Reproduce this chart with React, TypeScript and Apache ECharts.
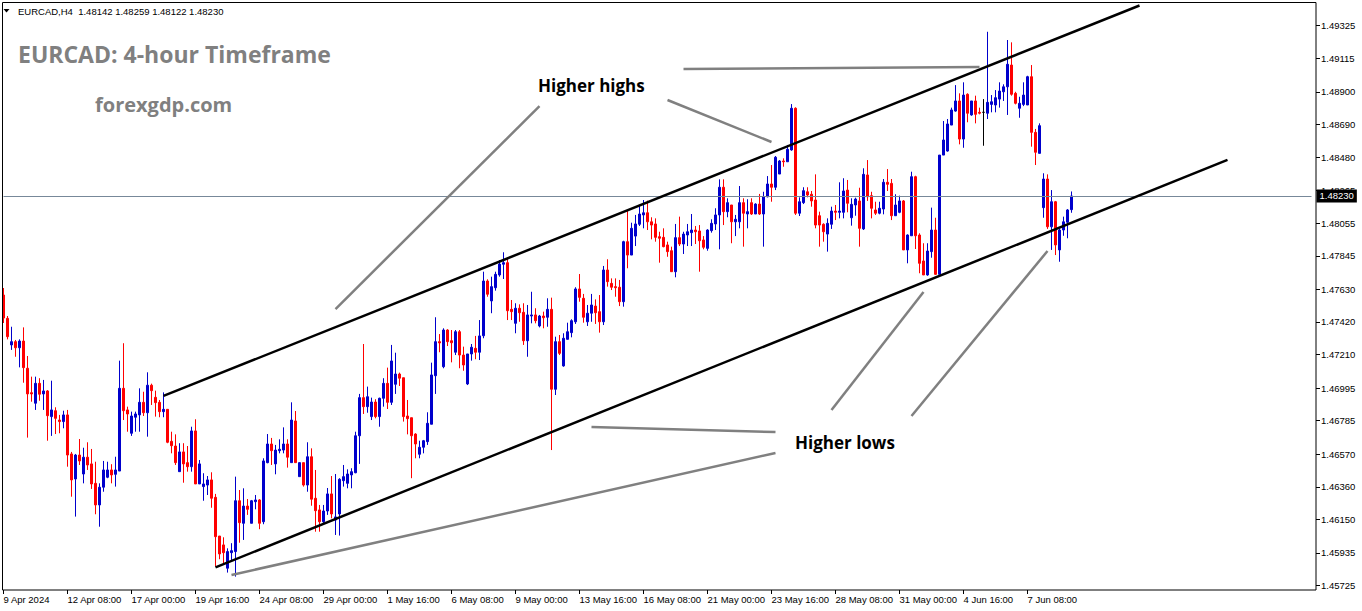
import React, { useEffect, useRef } from 'react';
import * as echarts from 'echarts';

// ---- axis labels ----
const xTickLabels = [
  '9 Apr 2024', '12 Apr 08:00', '17 Apr 00:00', '19 Apr 16:00', '24 Apr 08:00', '29 Apr 00:00',
  '1 May 16:00', '6 May 08:00', '9 May 00:00', '13 May 16:00', '16 May 08:00', '21 May 00:00',
  '23 May 16:00', '28 May 08:00', '31 May 00:00', '4 Jun 16:00', '7 Jun 08:00',
];
const xTickIndex = [0, 16, 32, 48, 64, 80, 96, 112, 128, 144, 160, 176, 192, 208, 224, 240, 256];
const yTickLabels = [
  '1.49325', '1.49115', '1.48900', '1.48690', '1.48480', '1.48265', '1.48055', '1.47845', '1.47630',
  '1.47420', '1.47210', '1.46995', '1.46785', '1.46570', '1.46360', '1.46150', '1.45935', '1.45725',
];
const slotCount = 328; // bar slots incl. empty space on the right
const priceMin = 1.45696;
const priceMax = 1.49471;
const bidPrice = 1.4823;

// ---- OHLC (H4 bars) ----
const opens = [
  1.47593, 1.47443, 1.47272, 1.47293, 1.47254, 1.47297, 1.47122, 1.46965, 1.46897, 1.47025,
  1.46957, 1.46976, 1.46811, 1.46849, 1.46789, 1.46779, 1.46822, 1.46571, 1.46410, 1.46564,
  1.46442, 1.46550, 1.46507, 1.46382, 1.46243, 1.46357, 1.46421, 1.46468, 1.46440, 1.46461,
  1.46993, 1.46854, 1.46704, 1.46807, 1.46822, 1.46903, 1.46836, 1.47013, 1.46935, 1.46903,
  1.46843, 1.46858, 1.46652, 1.46622, 1.46457, 1.46584, 1.46515, 1.46489, 1.46719, 1.46378,
  1.46361, 1.46371, 1.46404, 1.46292, 1.46043, 1.45986, 1.45836, 1.45936, 1.45943, 1.46270,
  1.46125, 1.46236, 1.46125, 1.46264, 1.46275, 1.46135, 1.46515, 1.46635, 1.46507, 1.46592,
  1.46596, 1.46635, 1.46515, 1.46783, 1.46425, 1.46515, 1.46371, 1.46553, 1.46286, 1.46211,
  1.46135, 1.46204, 1.46314, 1.46146, 1.46185, 1.46399, 1.46382, 1.46436, 1.46450, 1.46688,
  1.46933, 1.46875, 1.46811, 1.46905, 1.46811, 1.46929, 1.47025, 1.46903, 1.47019, 1.47085,
  1.47061, 1.46815, 1.46804, 1.46699, 1.46569, 1.46614, 1.46650, 1.46762, 1.47074, 1.47293,
  1.47132, 1.47368, 1.47299, 1.47225, 1.47357, 1.47207, 1.47021, 1.47214, 1.47250, 1.47225,
  1.47331, 1.47683, 1.47555, 1.47640, 1.47722, 1.47791, 1.47801, 1.47501, 1.47411, 1.47508,
  1.47482, 1.47299, 1.47458, 1.47465, 1.47394, 1.47458, 1.47450, 1.47501, 1.46987, 1.47293,
  1.47137, 1.47308, 1.47351, 1.47421, 1.47632, 1.47572, 1.47421, 1.47476, 1.47522, 1.47486,
  1.47421, 1.47754, 1.47668, 1.47647, 1.47643, 1.47550, 1.47936, 1.47850, 1.47972, 1.48048,
  1.48108, 1.48122, 1.48064, 1.48050, 1.47968, 1.47964, 1.47915, 1.47878, 1.47743, 1.47962,
  1.47921, 1.47979, 1.47994, 1.48011, 1.48005, 1.47947, 1.47893, 1.48007, 1.48050, 1.48108,
  1.48286, 1.48129, 1.48172, 1.48064, 1.48064, 1.48187, 1.48114, 1.48187, 1.48114, 1.48178,
  1.48114, 1.48225, 1.48307, 1.48286, 1.48371, 1.48455, 1.48450, 1.48526, 1.48794, 1.48119,
  1.48187, 1.48257, 1.48241, 1.48204, 1.48103, 1.48048, 1.47985, 1.48048, 1.48133, 1.48125,
  1.48125, 1.48268, 1.48090, 1.48172, 1.48198, 1.48018, 1.48365, 1.48232, 1.48140, 1.48119,
  1.48146, 1.48318, 1.48311, 1.48103, 1.48125, 1.48198, 1.47883, 1.47974, 1.48354, 1.47979,
  1.47812, 1.47722, 1.47872, 1.48011, 1.47726, 1.48493, 1.48519, 1.48686, 1.48776, 1.48841,
  1.48596, 1.48884, 1.48751, 1.48841, 1.48768, 1.48768, 1.48762, 1.48819, 1.48815, 1.48853,
  1.48900, 1.48932, 1.49072, 1.48890, 1.48794, 1.48819, 1.48815, 1.48997, 1.48639, 1.48504,
  1.48155, 1.48339, 1.48032, 1.48193, 1.47883, 1.48011, 1.48061, 1.48142,
];
const closes = [
  1.47445, 1.47325, 1.47293, 1.47254, 1.47297, 1.47126, 1.46957, 1.46957, 1.47025, 1.46955,
  1.46976, 1.46817, 1.46854, 1.46800, 1.46779, 1.46822, 1.46564, 1.46404, 1.46564, 1.46526,
  1.46550, 1.46500, 1.46378, 1.46243, 1.46357, 1.46468, 1.46468, 1.46436, 1.46468, 1.46993,
  1.46849, 1.46828, 1.46815, 1.46828, 1.46903, 1.46836, 1.47013, 1.46978, 1.46901, 1.46843,
  1.46858, 1.46646, 1.46624, 1.46515, 1.46584, 1.46507, 1.46489, 1.46719, 1.46378, 1.46507,
  1.46378, 1.46404, 1.46286, 1.46039, 1.45928, 1.45936, 1.45943, 1.45949, 1.46270, 1.46129,
  1.46236, 1.46215, 1.46270, 1.46275, 1.46125, 1.46526, 1.46635, 1.46592, 1.46596, 1.46601,
  1.46635, 1.46550, 1.46789, 1.46515, 1.46515, 1.46371, 1.46553, 1.46280, 1.46206, 1.46135,
  1.46204, 1.46314, 1.46185, 1.46166, 1.46408, 1.46425, 1.46442, 1.46457, 1.46688, 1.46933,
  1.46875, 1.46939, 1.46905, 1.46811, 1.46929, 1.47025, 1.46903, 1.47169, 1.47085, 1.47058,
  1.46811, 1.46798, 1.46688, 1.46635, 1.46614, 1.46656, 1.46768, 1.47079, 1.47293, 1.47285,
  1.47368, 1.47293, 1.47286, 1.47357, 1.47207, 1.47143, 1.47214, 1.47257, 1.47225, 1.47330,
  1.47683, 1.47598, 1.47647, 1.47726, 1.47792, 1.47801, 1.47492, 1.47486, 1.47508, 1.47479,
  1.47299, 1.47465, 1.47465, 1.47428, 1.47458, 1.47447, 1.47501, 1.46987, 1.47293, 1.47218,
  1.47315, 1.47357, 1.47428, 1.47632, 1.47578, 1.47450, 1.47476, 1.47529, 1.47479, 1.47421,
  1.47754, 1.47679, 1.47643, 1.47640, 1.47550, 1.47936, 1.47850, 1.48022, 1.48050, 1.48114,
  1.48122, 1.48064, 1.48043, 1.47964, 1.47958, 1.47904, 1.47872, 1.47743, 1.47962, 1.47921,
  1.47985, 1.48000, 1.48011, 1.48000, 1.47942, 1.47900, 1.48011, 1.48054, 1.48108, 1.48286,
  1.48129, 1.48187, 1.48064, 1.48080, 1.48187, 1.48119, 1.48129, 1.48114, 1.48178, 1.48114,
  1.48225, 1.48307, 1.48286, 1.48479, 1.48455, 1.48450, 1.48530, 1.48794, 1.48119, 1.48193,
  1.48264, 1.48236, 1.48198, 1.48043, 1.48043, 1.48000, 1.48054, 1.48133, 1.48125, 1.48133,
  1.48262, 1.48183, 1.48176, 1.48210, 1.48022, 1.48369, 1.48225, 1.48151, 1.48119, 1.48151,
  1.48318, 1.48305, 1.48103, 1.48172, 1.48198, 1.47883, 1.47979, 1.48354, 1.47974, 1.47797,
  1.47722, 1.47876, 1.48011, 1.47726, 1.48493, 1.48590, 1.48693, 1.48783, 1.48841, 1.48596,
  1.48879, 1.48762, 1.48841, 1.48755, 1.48762, 1.48768, 1.48832, 1.48836, 1.48862, 1.48905,
  1.48932, 1.49077, 1.48884, 1.48826, 1.48826, 1.48879, 1.48997, 1.48639, 1.48511, 1.48682,
  1.48339, 1.48032, 1.48193, 1.47915, 1.48011, 1.48064, 1.48140, 1.48230,
];
const highs = [
  1.47638, 1.47458, 1.47389, 1.47304, 1.47308, 1.47385, 1.47201, 1.47068, 1.47068, 1.47058,
  1.47047, 1.46982, 1.47042, 1.46871, 1.46822, 1.46849, 1.46854, 1.46584, 1.46571, 1.46667,
  1.46611, 1.46646, 1.46603, 1.46521, 1.46382, 1.46526, 1.46521, 1.46505, 1.46553, 1.47171,
  1.47283, 1.46875, 1.46843, 1.46843, 1.46993, 1.46971, 1.47096, 1.47023, 1.46978, 1.46918,
  1.46967, 1.46860, 1.46714, 1.46697, 1.46640, 1.46640, 1.46622, 1.46746, 1.46794, 1.46532,
  1.46447, 1.46429, 1.46453, 1.46314, 1.46043, 1.46035, 1.45964, 1.45997, 1.46425, 1.46339,
  1.46350, 1.46281, 1.46275, 1.46307, 1.46280, 1.46543, 1.46699, 1.46674, 1.46629, 1.46665,
  1.46742, 1.46665, 1.46903, 1.46847, 1.46515, 1.46515, 1.46646, 1.46607, 1.46468, 1.46243,
  1.46243, 1.46352, 1.46429, 1.46442, 1.46415, 1.46500, 1.46472, 1.46479, 1.46714, 1.46957,
  1.47278, 1.47004, 1.46933, 1.46923, 1.46933, 1.47058, 1.47126, 1.47272, 1.47222, 1.47094,
  1.47061, 1.46918, 1.46804, 1.46704, 1.46656, 1.46661, 1.46839, 1.47158, 1.47450, 1.47342,
  1.47379, 1.47373, 1.47368, 1.47368, 1.47368, 1.47261, 1.47214, 1.47278, 1.47330, 1.47432,
  1.47743, 1.47694, 1.47711, 1.47743, 1.47818, 1.47868, 1.47836, 1.47561, 1.47540, 1.47533,
  1.47540, 1.47529, 1.47614, 1.47508, 1.47465, 1.47486, 1.47572, 1.47576, 1.47325, 1.47336,
  1.47347, 1.47415, 1.47437, 1.47643, 1.47728, 1.47600, 1.47529, 1.47600, 1.47565, 1.47593,
  1.47780, 1.47823, 1.47700, 1.47700, 1.47690, 1.47942, 1.48140, 1.48058, 1.48108, 1.48165,
  1.48204, 1.48200, 1.48093, 1.48086, 1.48000, 1.48022, 1.47936, 1.47904, 1.48050, 1.48097,
  1.48000, 1.48050, 1.48114, 1.48037, 1.48043, 1.47972, 1.48016, 1.48080, 1.48151, 1.48337,
  1.48337, 1.48215, 1.48172, 1.48108, 1.48294, 1.48215, 1.48209, 1.48215, 1.48183, 1.48243,
  1.48257, 1.48358, 1.48429, 1.48487, 1.48461, 1.48472, 1.48558, 1.48821, 1.48800, 1.48221,
  1.48286, 1.48286, 1.48262, 1.48369, 1.48129, 1.48054, 1.48086, 1.48161, 1.48172, 1.48318,
  1.48344, 1.48333, 1.48215, 1.48219, 1.48283, 1.48408, 1.48461, 1.48257, 1.48193, 1.48193,
  1.48339, 1.48403, 1.48339, 1.48241, 1.48232, 1.48204, 1.47983, 1.48386, 1.48360, 1.47990,
  1.47926, 1.47926, 1.48155, 1.48090, 1.48493, 1.48712, 1.48725, 1.48798, 1.48943, 1.48890,
  1.48961, 1.48890, 1.48841, 1.48875, 1.48798, 1.48853, 1.49286, 1.48879, 1.48911, 1.48961,
  1.48948, 1.49233, 1.49218, 1.48900, 1.48868, 1.48961, 1.49003, 1.49072, 1.48661, 1.48697,
  1.48376, 1.48369, 1.48268, 1.48198, 1.48018, 1.48097, 1.48146, 1.48259,
];
const lows = [
  1.47413, 1.47308, 1.47240, 1.47196, 1.47128, 1.47029, 1.46676, 1.46907, 1.46854, 1.46913,
  1.46854, 1.46656, 1.46687, 1.46699, 1.46704, 1.46736, 1.46489, 1.46296, 1.46168, 1.46500,
  1.46382, 1.46468, 1.46346, 1.46183, 1.46103, 1.46328, 1.46415, 1.46382, 1.46361, 1.46461,
  1.46789, 1.46714, 1.46687, 1.46714, 1.46714, 1.46815, 1.46682, 1.46886, 1.46811, 1.46807,
  1.46807, 1.46640, 1.46575, 1.46500, 1.46457, 1.46386, 1.46457, 1.46457, 1.46378, 1.46378,
  1.46270, 1.46307, 1.46225, 1.45846, 1.45894, 1.45868, 1.45808, 1.45889, 1.45782, 1.46000,
  1.46018, 1.46179, 1.46125, 1.46215, 1.46087, 1.46119, 1.46511, 1.46500, 1.46440, 1.46575,
  1.46575, 1.46483, 1.46515, 1.46515, 1.46425, 1.46361, 1.46328, 1.46238, 1.46071, 1.46071,
  1.46127, 1.46179, 1.46157, 1.46050, 1.46046, 1.46361, 1.46350, 1.46350, 1.46447, 1.46507,
  1.46828, 1.46836, 1.46789, 1.46800, 1.46746, 1.46875, 1.46860, 1.46886, 1.46957, 1.47008,
  1.46779, 1.46697, 1.46415, 1.46543, 1.46543, 1.46575, 1.46629, 1.46762, 1.46957, 1.47225,
  1.47122, 1.47265, 1.47160, 1.47207, 1.47122, 1.47106, 1.47014, 1.47171, 1.47180, 1.47175,
  1.47315, 1.47582, 1.47476, 1.47621, 1.47711, 1.47696, 1.47432, 1.47432, 1.47347, 1.47421,
  1.47272, 1.47196, 1.47411, 1.47411, 1.47385, 1.47379, 1.47389, 1.46596, 1.46950, 1.47207,
  1.47132, 1.47308, 1.47321, 1.47407, 1.47550, 1.47415, 1.47394, 1.47421, 1.47407, 1.47351,
  1.47400, 1.47647, 1.47625, 1.47582, 1.47522, 1.47518, 1.47765, 1.47850, 1.47908, 1.48037,
  1.48022, 1.48011, 1.47951, 1.47936, 1.47801, 1.47900, 1.47839, 1.47743, 1.47707, 1.47908,
  1.47857, 1.47908, 1.47908, 1.47921, 1.47743, 1.47887, 1.47878, 1.47994, 1.48011, 1.47887,
  1.48043, 1.48093, 1.47926, 1.47972, 1.48022, 1.47904, 1.48022, 1.48108, 1.48114, 1.48108,
  1.47904, 1.48221, 1.48193, 1.48268, 1.48371, 1.48418, 1.48450, 1.48521, 1.48108, 1.48101,
  1.48178, 1.48221, 1.48161, 1.48022, 1.47904, 1.47936, 1.47872, 1.48018, 1.48075, 1.48086,
  1.48086, 1.48125, 1.48039, 1.48103, 1.47904, 1.48011, 1.48198, 1.48086, 1.48108, 1.48112,
  1.48112, 1.48262, 1.48075, 1.48103, 1.48119, 1.47883, 1.47797, 1.47974, 1.47889, 1.47733,
  1.47722, 1.47717, 1.47833, 1.47722, 1.47726, 1.48493, 1.48515, 1.48686, 1.48772, 1.48562,
  1.48540, 1.48704, 1.48746, 1.48697, 1.48755, 1.48553, 1.48725, 1.48768, 1.48768, 1.48798,
  1.48841, 1.48751, 1.48875, 1.48819, 1.48733, 1.48808, 1.48815, 1.48547, 1.48429, 1.48504,
  1.48090, 1.48018, 1.47883, 1.47850, 1.47807, 1.47974, 1.47958, 1.48122,
];

// ---- drawn objects: [barIndex, price] end points ----
const bidLine = [[0, bidPrice], [slotCount - 1, bidPrice]];
const channelUpper = [[40, 1.46944], [284, 1.49455]];
const channelLower = [[53, 1.45842], [306, 1.48462]];
const pointerLines = [
  [[83, 1.47503], [134, 1.48808]],
  [[166, 1.48847], [192, 1.48577]],
  [[170, 1.49046], [244, 1.49059]],
  [[147, 1.46744], [193, 1.46712]],
  [[57, 1.45793], [193, 1.46577]],
  [[207, 1.46854], [230, 1.47612]],
  [[227, 1.46815], [261, 1.47876]],
];

const BLUE = '#0000CC';
const RED = '#FF0000';
const AXIS_FONT = '"Liberation Sans", Arial, sans-serif';

export default function App() {
  const ref = useRef<HTMLDivElement>(null);

  useEffect(() => {
    document.body.style.margin = '0';
    const chart = echarts.init(ref.current!, null, { renderer: 'svg' });

    const categories = Array.from({ length: slotCount }, (_, i) => String(i));
    const labelAt: Record<number, string> = {};
    xTickIndex.forEach((idx, k) => (labelAt[idx] = xTickLabels[k]));
    const isTick = (i: number) => labelAt[i] !== undefined;
    const yTickValues = yTickLabels.map(Number);

    const candles = opens.map((o, i) => [o, closes[i], lows[i], highs[i]]);

    const lineItem = (pts: number[][], color: string, width: number, extra: any = {}) => [
      { coord: pts[0], lineStyle: { color, width, type: 'solid' }, ...extra },
      { coord: pts[1] },
    ];

    const option: any = {
      animation: false,
      backgroundColor: '#ffffff',
      grid: { left: 1.5, top: 3, width: 1312, height: 587 },
      xAxis: {
        type: 'category',
        data: categories,
        boundaryGap: true,
        axisLine: { show: false },
        splitLine: { show: false },
        axisTick: {
          show: true,
          length: 4,
          alignWithLabel: true,
          interval: (i: number) => isTick(i),
          lineStyle: { color: '#000', width: 1 },
        },
        axisLabel: {
          interval: (i: number) => isTick(i),
          formatter: (_v: string, i: number) => labelAt[i] ?? '',
          align: 'left',
          margin: 4,
          padding: [0, 0, 0, 0],
          fontSize: 9.5,
          fontFamily: AXIS_FONT,
          color: '#000',
        },
      },
      yAxis: {
        type: 'value',
        position: 'right',
        min: priceMin,
        max: priceMax,
        offset: 2.5,
        scale: true,
        splitLine: { show: false },
        axisLine: { show: false },
        axisTick: {
          show: true,
          length: 4,
          customValues: yTickValues,
          lineStyle: { color: '#000', width: 1 },
        },
        axisLabel: {
          customValues: yTickValues,
          formatter: (v: number) => v.toFixed(5),
          margin: 5,
          fontSize: 9.5,
          fontFamily: AXIS_FONT,
          color: '#000',
        },
      },
      series: [
        {
          type: 'candlestick',
          data: candles,
          barWidth: 2,
          clip: true,
          itemStyle: {
            color: BLUE,
            color0: RED,
            borderColor: BLUE,
            borderColor0: RED,
            borderColorDoji: '#000000',
            borderWidth: 1,
          },
          markLine: {
            silent: true,
            animation: false,
            symbol: ['none', 'none'],
            label: { show: false },
            emphasis: { disabled: true },
            data: [
              lineItem(bidLine, '#778899', 1, {
                label: {
                  show: true,
                  position: 'end',
                  distance: 5,
                  formatter: bidPrice.toFixed(5),
                  color: '#ffffff',
                  backgroundColor: '#000000',
                  padding: [2, 3, 1, 3],
                  fontSize: 9.5,
                  fontFamily: AXIS_FONT,
                },
              }),
              lineItem(channelUpper, '#000000', 2.5),
              lineItem(channelLower, '#000000', 2.5),
              ...pointerLines.map((p) => lineItem(p, '#808080', 2.5)),
            ],
          },
        },
      ],
      graphic: [
        {
          type: 'rect',
          silent: true,
          z: 100,
          shape: { x: 2.5, y: 2.5, width: 1313.5, height: 587.5 },
          style: { fill: 'none', stroke: '#000', lineWidth: 1 },
        },
        {
          type: 'polygon',
          silent: true,
          z: 100,
          shape: { points: [[3.5, 9], [9.5, 9], [6.5, 12.5]] },
          style: { fill: '#000' },
        },
        {
          type: 'text',
          silent: true,
          z: 100,
          x: 18,
          y: 11,
          style: {
            text: 'EURCAD,H4  1.48142 1.48259 1.48122 1.48230',
            font: '9.5px "Liberation Sans", Arial, sans-serif',
            fill: '#000',
            verticalAlign: 'middle',
          },
        },
        {
          type: 'text',
          silent: true,
          z: 100,
          x: 18,
          y: 54,
          style: {
            text: 'EURCAD: 4-hour Timeframe',
            font: 'bold 23px "Open Sans", sans-serif',
            fill: '#808080',
            verticalAlign: 'middle',
          },
        },
        {
          type: 'text',
          silent: true,
          z: 100,
          x: 95,
          y: 104,
          style: {
            text: 'forexgdp.com',
            font: 'bold 20px "Open Sans", sans-serif',
            fill: '#808080',
            verticalAlign: 'middle',
          },
        },
        {
          type: 'text',
          silent: true,
          z: 100,
          x: 538,
          y: 85,
          style: {
            text: 'Higher highs',
            font: 'bold 17px "Open Sans", sans-serif',
            fill: '#000',
            verticalAlign: 'middle',
          },
        },
        {
          type: 'text',
          silent: true,
          z: 100,
          x: 795,
          y: 442,
          style: {
            text: 'Higher lows',
            font: 'bold 17px "Open Sans", sans-serif',
            fill: '#000',
            verticalAlign: 'middle',
          },
        },
      ],
    };

    chart.setOption(option);
    return () => chart.dispose();
  }, []);

  return (
    <div
      ref={ref}
      style={{ position: 'absolute', left: 0, top: 0, width: 1362, height: 611, background: '#fff' }}
    />
  );
}
